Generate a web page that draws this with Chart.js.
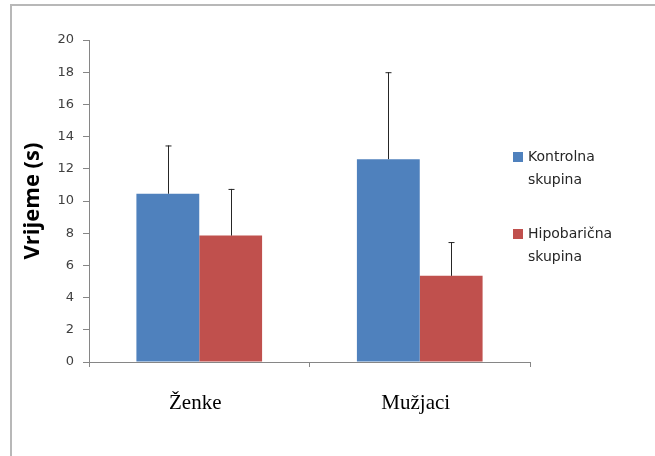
<!DOCTYPE html>
<html>
<head>
<meta charset="utf-8">
<script src="https://cdn.jsdelivr.net/npm/chart.js@4"></script>
<style>
  html, body { margin: 0; padding: 0; background: #fff; }
  #wrap { position: relative; width: 655px; height: 456px; }
  #frame { position: absolute; left: 10px; top: 4px; right: 0; bottom: 0;
           border-top: 2px solid #b8b8b8; border-left: 2px solid #b8b8b8; }
  canvas { position: absolute; left: 0; top: 0; }
</style>
</head>
<body>
<div id="wrap">
  <div id="frame"></div>
  <canvas id="chart" width="655" height="456"></canvas>
</div>
<script>
// groups and values
const categories = ['Ženke', 'Mužjaci'];
const seriesNames = [['Kontrolna', 'skupina'], ['Hipobarična', 'skupina']];
const kontrolna = [10.45, 12.6];
const kontrolnaErr = [3.0, 5.4];
const hipobaricna = [7.85, 5.35];
const hipobaricnaErr = [2.9, 2.1];
const yTicks = [0, 2, 4, 6, 8, 10, 12, 14, 16, 18, 20];

const blue = '#4F81BD';
const red = '#C0504D';

// upward-only error bars, positioned by the chart's own scales
const errorBars = {
    id: 'errorBars',
    afterDatasetsDraw(chart) {
        const ctx = chart.ctx;
        const y = chart.scales.y;
        ctx.save();
        ctx.strokeStyle = '#262626';
        ctx.lineWidth = 1;
        chart.data.datasets.forEach((ds, i) => {
            const meta = chart.getDatasetMeta(i);
            meta.data.forEach((bar, j) => {
                const top = y.getPixelForValue(ds.data[j] + ds.errors[j]);
                const x = Math.round(bar.x) + 0.5;
                ctx.beginPath();
                ctx.moveTo(x, bar.y);
                ctx.lineTo(x, top);
                ctx.moveTo(x - 3, top + 0.5);
                ctx.lineTo(x + 3, top + 0.5);
                ctx.stroke();
            });
        });
        ctx.restore();
    }
};

// Excel style legend with two-line labels on the right
const sideLegend = {
    id: 'sideLegend',
    afterDraw(chart) {
        const ctx = chart.ctx;
        const x0 = chart.chartArea.right - 17;
        const rows = [157, 234];
        ctx.save();
        ctx.font = '14px "DejaVu Sans"';
        ctx.textBaseline = 'middle';
        chart.data.datasets.forEach((ds, i) => {
            const yc = rows[i];
            ctx.fillStyle = ds.backgroundColor;
            ctx.fillRect(x0, yc - 5, 10, 10);
            ctx.fillStyle = '#262626';
            ds.label.forEach((line, k) => {
                ctx.fillText(line, x0 + 15, yc + k * 23);
            });
        });
        ctx.restore();
    }
};

new Chart(document.getElementById('chart'), {
    type: 'bar',
    data: {
        labels: categories,
        datasets: [{
            label: seriesNames[0],
            data: kontrolna,
            errors: kontrolnaErr,
            backgroundColor: blue
        }, {
            label: seriesNames[1],
            data: hipobaricna,
            errors: hipobaricnaErr,
            backgroundColor: red
        }]
    },
    options: {
        responsive: false,
        animation: false,
        devicePixelRatio: 1,
        categoryPercentage: 0.57,
        barPercentage: 1,
        layout: { padding: { left: 0, top: 40, right: 125, bottom: 0 } },
        plugins: {
            legend: { display: false },
            tooltip: { enabled: false }
        },
        scales: {
            x: {
                afterFit: s => { s.height = 94; },
                grid: { drawOnChartArea: false, tickLength: 5, color: '#868686' },
                border: { color: '#868686' },
                ticks: { padding: 24, labelOffset: -4, color: '#000', font: { family: '"Liberation Serif"', size: 21 } }
            },
            y: {
                min: 0,
                max: 20,
                afterFit: s => { s.width = 89; },
                afterBuildTicks: s => { s.ticks = yTicks.map(v => ({ value: v })); },
                grid: { drawOnChartArea: false, tickLength: 6, color: '#868686' },
                border: { color: '#868686' },
                ticks: { padding: 9, color: '#404040', font: { family: '"DejaVu Sans"', size: 13 } },
                title: {
                    display: true,
                    text: 'Vrijeme (s)',
                    color: '#000',
                    padding: { top: 20, bottom: 0 },
                    font: { family: '"Open Sans"', size: 22, weight: 'bold' }
                }
            }
        }
    },
    plugins: [errorBars, sideLegend]
});
</script>
</body>
</html>
